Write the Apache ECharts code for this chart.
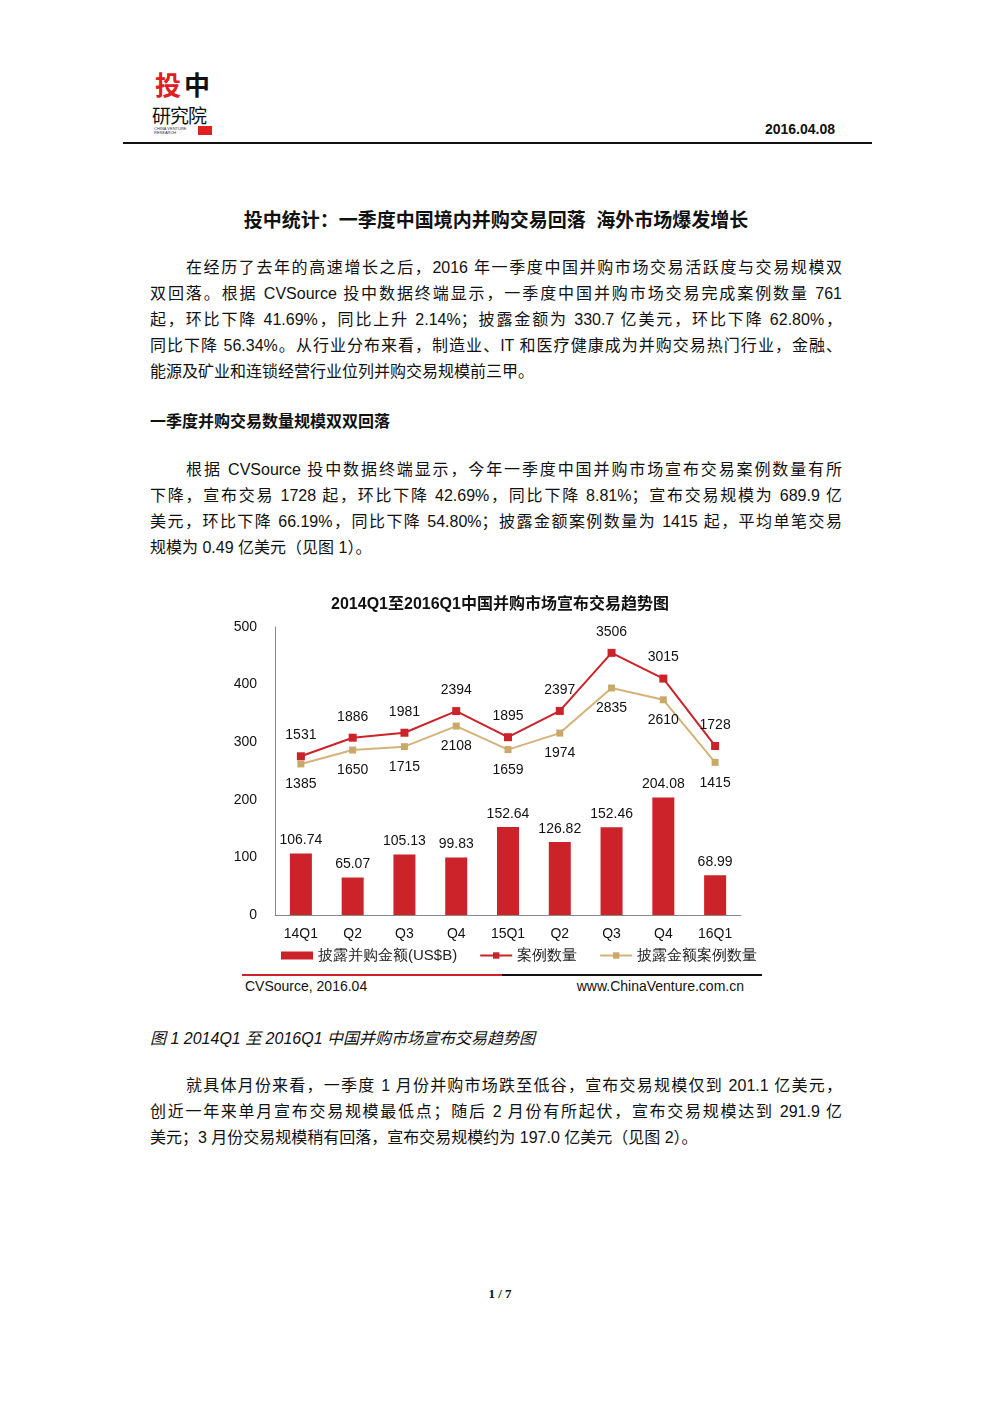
<!DOCTYPE html>
<html><head><meta charset="utf-8">
<script src="https://cdn.jsdelivr.net/npm/echarts@6/dist/echarts.min.js"></script>
<style>
body{margin:0;width:992px;height:1403px;background:#fff;position:relative;font-family:"Liberation Sans","Noto Sans CJK SC",sans-serif;color:#111;}
.a{position:absolute;}
.p{position:absolute;left:150px;width:692px;font-size:16px;line-height:26px;}
.p div{text-align:justify;text-align-last:justify;white-space:nowrap;}
.p div.last{text-align-last:left;}
.ind{padding-left:36px;}
</style></head><body>
<div class="a" style="left:152px;top:70px;width:62px;height:66px;">
 <div class="a" style="left:3px;top:1px;font-size:26px;line-height:26px;font-weight:bold;color:#e02020;font-family:'Noto Sans CJK SC'">投</div>
 <div class="a" style="left:32px;top:1px;font-size:26px;line-height:26px;font-weight:bold;color:#111;font-family:'Noto Sans CJK SC'">中</div>
 <div class="a" style="left:0px;top:35px;font-size:19px;line-height:19px;color:#111;font-family:'Noto Sans CJK SC';letter-spacing:-1px">研究院</div>
 <div class="a" style="left:2px;top:57px;font-size:4px;line-height:4px;color:#333">CHINA VENTURE<br>RESEARCH</div>
 <div class="a" style="left:46px;top:56px;width:14px;height:9px;background:#e02020"></div>
</div>
<div class="a" style="left:700px;top:121px;width:135px;text-align:right;font-size:14px;font-weight:bold">2016.04.08</div>
<div class="a" style="left:123px;top:142px;width:749px;height:2px;background:#111"></div>
<div class="a" style="left:0;width:992px;top:205px;text-align:center;font-size:19px;font-weight:bold;">投中统计：一季度中国境内并购交易回落&nbsp;&nbsp;海外市场爆发增长</div>
<div class="p" style="top:255px">
<div class="ind">在经历了去年的高速增长之后，2016 年一季度中国并购市场交易活跃度与交易规模双</div>
<div>双回落。根据 CVSource 投中数据终端显示，一季度中国并购市场交易完成案例数量 761</div>
<div>起，环比下降 41.69%，同比上升 2.14%；披露金额为 330.7 亿美元，环比下降 62.80%，</div>
<div>同比下降 56.34%。从行业分布来看，制造业、IT 和医疗健康成为并购交易热门行业，金融、</div>
<div class="last">能源及矿业和连锁经营行业位列并购交易规模前三甲。</div>
</div>
<div class="a" style="left:150px;top:408px;font-size:16px;font-weight:bold;">一季度并购交易数量规模双双回落</div>
<div class="p" style="top:457px">
<div class="ind">根据 CVSource 投中数据终端显示，今年一季度中国并购市场宣布交易案例数量有所</div>
<div>下降，宣布交易 1728 起，环比下降 42.69%，同比下降 8.81%；宣布交易规模为 689.9 亿</div>
<div>美元，环比下降 66.19%，同比下降 54.80%；披露金额案例数量为 1415 起，平均单笔交易</div>
<div class="last">规模为 0.49 亿美元（见图 1）。</div>
</div>
<div id="c" class="a" style="left:220px;top:588px;width:560px;height:382px;"></div>
<div class="a" style="left:242px;top:974px;width:260px;height:2px;background:#d0202a"></div>
<div class="a" style="left:502px;top:974px;width:260px;height:2px;background:#111"></div>
<div class="a" style="left:245px;top:978px;font-size:14px;">CVSource, 2016.04</div>
<div class="a" style="left:500px;width:244px;top:978px;font-size:14px;text-align:right">www.ChinaVenture.com.cn</div>
<div class="a" style="left:150px;top:1025px;font-size:16px;font-style:italic;">图 1 2014Q1 至 2016Q1 中国并购市场宣布交易趋势图</div>
<div class="p" style="top:1073px">
<div class="ind">就具体月份来看，一季度 1 月份并购市场跌至低谷，宣布交易规模仅到 201.1 亿美元，</div>
<div>创近一年来单月宣布交易规模最低点；随后 2 月份有所起伏，宣布交易规模达到 291.9 亿</div>
<div class="last">美元；3 月份交易规模稍有回落，宣布交易规模约为 197.0 亿美元（见图 2）。</div>
</div>
<div class="a" style="left:0;width:1000px;top:1286px;text-align:center;font-size:13px;font-weight:bold;font-family:'Liberation Serif',serif">1 / 7</div>
<script>
var categories=['14Q1','Q2','Q3','Q4','15Q1','Q2','Q3','Q4','16Q1'];
var amount=[106.74,65.07,105.13,99.83,152.64,126.82,152.46,204.08,68.99];
var cases=[1531,1886,1981,2394,1895,2397,3506,3015,1728];
var disclosed=[1385,1650,1715,2108,1659,1974,2835,2610,1415];
var c=echarts.init(document.getElementById('c'));
var lbl={color:'#111',fontSize:14,fontFamily:'Liberation Sans'};
c.setOption({
 animation:false,
 title:{text:'2014Q1至2016Q1中国并购市场宣布交易趋势图',left:'center',top:4,textStyle:{fontSize:16,fontWeight:'bold',color:'#111',fontFamily:'Liberation Sans, Noto Sans CJK SC'}},
 grid:{left:55,right:39,top:39,bottom:55},
 legend:{bottom:2,left:56,itemGap:22,itemWidth:32,itemHeight:8,textStyle:{fontSize:15,color:'#222'},
  data:[{name:'披露并购金额(US$B)',icon:'rect'},{name:'案例数量'},{name:'披露金额案例数量'}]},
 xAxis:{type:'category',data:categories,axisTick:{show:false},axisLine:{lineStyle:{color:'#888'}},axisLabel:{color:'#111',fontSize:14,margin:12}},
 yAxis:[{type:'value',min:0,max:500,interval:100,splitLine:{show:false},axisLine:{show:true,lineStyle:{color:'#888'}},axisLabel:{color:'#111',fontSize:14,margin:18}},
  {type:'value',min:-1500,max:4000,show:false,splitLine:{show:false}}],
 series:[
  {name:'披露并购金额(US$B)',type:'bar',data:amount,barWidth:22,itemStyle:{color:'#cc2229'},label:Object.assign({show:true,position:'top',distance:6},lbl)},
  {name:'案例数量',type:'line',yAxisIndex:1,data:cases,symbol:'rect',symbolSize:8,lineStyle:{color:'#cc2229',width:2},itemStyle:{color:'#cc2229'},label:Object.assign({show:true,position:'top',distance:10},lbl)},
  {name:'披露金额案例数量',type:'line',yAxisIndex:1,data:disclosed,symbol:'rect',symbolSize:7,lineStyle:{color:'#d4b27a',width:2},itemStyle:{color:'#c9a86a'},label:Object.assign({show:true,position:'bottom',distance:10},lbl)}
 ]
});
</script>
</body></html>
